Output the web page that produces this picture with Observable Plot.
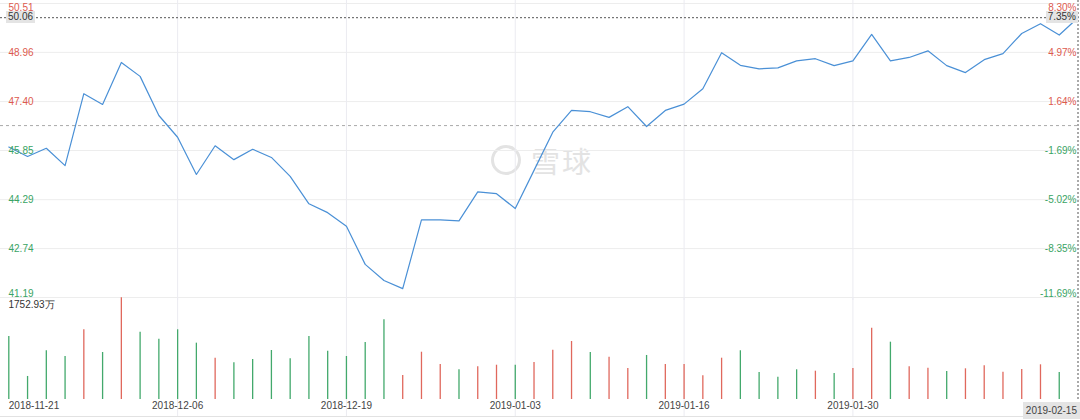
<!DOCTYPE html>
<html>
<head>
<meta charset="utf-8">
<script src="https://cdn.jsdelivr.net/npm/d3@7"></script>
<script src="https://cdn.jsdelivr.net/npm/@observablehq/plot@0.6"></script>
<style>
  html, body { margin: 0; padding: 0; background: #fff; }
  #wrap { position: relative; width: 1080px; height: 420px; overflow: hidden; font-family: "Liberation Sans", Arial, sans-serif; }
  #wrap svg { position: absolute; left: 0; }
  .tag { position: absolute; background: #e4e4e4; color: #333; font-size: 10px; line-height: 12px; padding: 0 2px; white-space: nowrap; }
  .wm-ring { position: absolute; left: 491px; top: 145px; width: 24px; height: 24px; border: 3.5px solid #e3e3e3; border-radius: 50%; }
  .wm-text { position: absolute; left: 531px; top: 139px; font-size: 29px; color: #e3e3e3; font-family: "Noto Sans CJK SC", sans-serif; letter-spacing: 2px; }
</style>
</head>
<body>
<div id="wrap">
  <div class="wm-ring"></div>
  <div class="wm-text">雪球</div>
</div>
<script>
// ---- data ----
const dates = [
  "2018-11-21","2018-11-23","2018-11-26","2018-11-27","2018-11-28","2018-11-29","2018-11-30",
  "2018-12-03","2018-12-04","2018-12-06","2018-12-07","2018-12-10","2018-12-11","2018-12-12",
  "2018-12-13","2018-12-14","2018-12-17","2018-12-18","2018-12-19","2018-12-20","2018-12-21",
  "2018-12-24","2018-12-26","2018-12-27","2018-12-28","2018-12-31","2019-01-02","2019-01-03",
  "2019-01-04","2019-01-07","2019-01-08","2019-01-09","2019-01-10","2019-01-11","2019-01-14",
  "2019-01-15","2019-01-16","2019-01-17","2019-01-18","2019-01-22","2019-01-23","2019-01-24",
  "2019-01-25","2019-01-28","2019-01-29","2019-01-30","2019-01-31","2019-02-01","2019-02-04",
  "2019-02-05","2019-02-06","2019-02-07","2019-02-08","2019-02-11","2019-02-12","2019-02-13",
  "2019-02-14","2019-02-15"
];
const closes = [
  45.96, 45.66, 45.92, 45.37, 47.65, 47.31, 48.64, 48.20, 46.96, 46.27,
  45.09, 46.00, 45.56, 45.89, 45.63, 45.03, 44.16, 43.88, 43.45, 42.24,
  41.73, 41.47, 43.65, 43.65, 43.62, 44.54, 44.48, 44.01, 45.22, 46.43,
  47.12, 47.08, 46.90, 47.24, 46.61, 47.12, 47.32, 47.81, 48.95, 48.55,
  48.44, 48.47, 48.69, 48.76, 48.54, 48.69, 49.53, 48.69, 48.80, 49.01,
  48.54, 48.32, 48.73, 48.92, 49.56, 49.87, 49.51, 50.06
];
// volume in 万 shares
const volumes = [
  1086, 397, 840, 741, 1202, 810, 1752.93, 1160, 1040, 1202,
  971, 712, 633, 690, 845, 702, 1086, 833, 741, 983,
  1374, 414, 815, 603, 512, 564, 591, 591, 638, 850,
  1000, 810, 729, 534, 759, 603, 603, 409, 712, 840,
  465, 384, 512, 488, 448, 534, 1229, 988, 564, 540,
  483, 529, 581, 471, 517, 598, 465, null
];
// candle direction per bar: "u" = close above open (red), "d" = below (green)
const barDir = [
  "d","d","d","d","u","d","u","d","d","d",
  "d","u","d","d","d","d","d","d","d","d",
  "d","u","u","u","d","u","u","d","u","u",
  "u","d","u","u","d","u","u","u","u","d",
  "d","d","d","u","d","u","u","d","u","u",
  "d","u","u","u","u","u","d","u"
];
const priceTicks = [50.51, 48.96, 47.40, 45.85, 44.29, 42.74, 41.19];
const pctTicks = ["8.30%", "4.97%", "1.64%", "-1.69%", "-5.02%", "-8.35%", "-11.69%"];
const prevClose = 46.64;
const lastPriceLabel = "50.06";
const lastPctLabel = "7.35%";
const volMax = 1752.93;
const volMaxLabel = "1752.93万";
const axisDates = ["2018-11-21", "2018-12-06", "2018-12-19", "2019-01-03", "2019-01-16", "2019-01-30"];
const lastDateLabel = "2019-02-15";

// ---- styles ----
const RED = "#dd5a4e";
const GREEN = "#3aa464";
const BAR_RED = "#e0685d";
const BAR_GREEN = "#43a96c";
const LINE = "#4a90d6";
const GRID = "#ededed";
const FONT = "Liberation Sans, Arial, sans-serif";

const rows = dates.map((d, i) => ({date: d, close: closes[i], vol: volumes[i], dir: barDir[i]}));
const tickRows = priceTicks.map((p, i) => ({price: p, pct: pctTicks[i]}));
const gridDates = axisDates.slice(1);
const lastDate = dates[dates.length - 1];
const xScale = {type: "point", domain: dates, range: [8.3, 1077.5], padding: 0, align: 0.5, axis: null};
const tickColor = d => d.price >= prevClose ? RED : GREEN;

const wrap = document.getElementById("wrap");

const price = Plot.plot({
  width: 1080, height: 300, margin: 0,
  style: {background: "transparent", overflow: "visible", fontFamily: FONT},
  x: xScale,
  y: {domain: [41.19, 50.51], range: [297, 3], axis: null},
  marks: [
    Plot.ruleY(tickRows, {y: "price", stroke: GRID}),
    Plot.ruleX(gridDates, {x: d => d, stroke: "#ebebf1"}),
    Plot.ruleY([prevClose], {stroke: "#aaa", strokeDasharray: "3,3"}),
    Plot.line(rows, {x: "date", y: "close", stroke: LINE, strokeWidth: 1.2}),
    Plot.ruleY([closes[closes.length - 1]], {stroke: "#555", strokeDasharray: "2,2"}),
    Plot.ruleX([lastDate], {stroke: "#555", strokeDasharray: "2,2"}),
    // left price labels
    Plot.text(tickRows.slice(1, -1), {y: "price", text: d => d.price.toFixed(2), frameAnchor: "left", dx: 8, textAnchor: "start", fill: tickColor, fontSize: 10}),
    Plot.text(tickRows.slice(0, 1), {y: "price", text: d => d.price.toFixed(2), frameAnchor: "left", dx: 8, dy: 0, lineAnchor: "top", textAnchor: "start", fill: tickColor, fontSize: 10}),
    Plot.text(tickRows.slice(-1), {y: "price", text: d => d.price.toFixed(2), frameAnchor: "left", dx: 8, dy: -1, lineAnchor: "bottom", textAnchor: "start", fill: tickColor, fontSize: 10}),
    // right percent labels
    Plot.text(tickRows.slice(1, -1), {y: "price", text: "pct", frameAnchor: "right", dx: -4, textAnchor: "end", fill: tickColor, fontSize: 10}),
    Plot.text(tickRows.slice(0, 1), {y: "price", text: "pct", frameAnchor: "right", dx: -4, lineAnchor: "top", textAnchor: "end", fill: tickColor, fontSize: 10}),
    Plot.text(tickRows.slice(-1), {y: "price", text: "pct", frameAnchor: "right", dx: -4, dy: -1, lineAnchor: "bottom", textAnchor: "end", fill: tickColor, fontSize: 10})
  ]
});
price.style.top = "0px";
wrap.appendChild(price);

const volRows = rows.filter(d => d.vol != null);
const volume = Plot.plot({
  width: 1080, height: 123, margin: 0, marginBottom: 4,
  style: {background: "transparent", overflow: "visible", fontFamily: FONT},
  x: xScale,
  y: {domain: [0, volMax], range: [102, 0.3], axis: null},
  marks: [
    Plot.ruleX(gridDates, {x: d => d, stroke: "#ebebf1"}),
    Plot.frame({anchor: "bottom", stroke: "#e2e2e2"}),
    Plot.ruleX(volRows, {x: "date", y1: d => 0, y2: "vol", stroke: d => d.dir === "u" ? BAR_RED : BAR_GREEN, strokeWidth: 1.3}),
    Plot.ruleX([lastDate], {y1: d => 0, y2: d => volMax, stroke: "#555", strokeDasharray: "2,2", insetBottom: -4}),
    Plot.text([volMaxLabel], {text: d => d, frameAnchor: "top-left", dx: 8, dy: 3, lineAnchor: "top", textAnchor: "start", fill: "#333", fontSize: 10}),
    Plot.text(axisDates.slice(0, 1), {x: d => d, text: d => d, frameAnchor: "bottom", dy: -8, textAnchor: "start", fill: "#444", fontSize: 10}),
    Plot.text(axisDates.slice(1), {x: d => d, text: d => d, frameAnchor: "bottom", dy: -8, textAnchor: "middle", fill: "#444", fontSize: 10})
  ]
});
volume.style.top = "297px";
wrap.appendChild(volume);

// crosshair tags
function tag(text, css) {
  const el = document.createElement("div");
  el.className = "tag";
  el.textContent = text;
  Object.assign(el.style, css);
  wrap.appendChild(el);
}
tag(lastPriceLabel, {left: "6px", top: "11px"});
tag(lastPctLabel, {right: "2px", top: "11px"});
tag(lastDateLabel, {right: "0px", top: "402px", lineHeight: "17px", padding: "0 3px", color: "#444"});
</script>
</body>
</html>
